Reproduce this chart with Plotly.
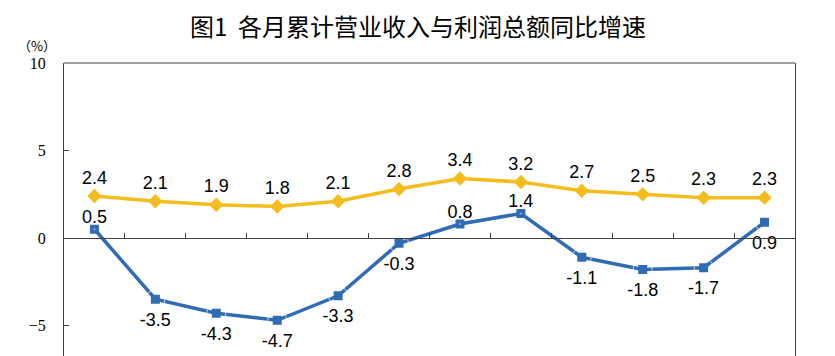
import plotly.graph_objects as go

months = ["2023年1-12月", "2024年1-2月", "1-3月", "1-4月", "1-5月", "1-6月",
          "1-7月", "1-8月", "1-9月", "1-10月", "1-11月", "1-12月"]
revenue = [2.4, 2.1, 1.9, 1.8, 2.1, 2.8, 3.4, 3.2, 2.7, 2.5, 2.3, 2.3]
profit = [0.5, -3.5, -4.3, -4.7, -3.3, -0.3, 0.8, 1.4, -1.1, -1.8, -1.7, 0.9]
profit_pos = ["top center", "bottom center", "bottom center", "bottom center",
              "bottom center", "bottom center", "top center", "top center",
              "bottom center", "bottom center", "bottom center", "bottom center"]
y_ticks = [-5, 0, 5, 10]

# page body has an 8px margin: target image coords are shifted by OFF
OFF = 8
W, H = 835, 356
L = 64 - OFF
R = W - (795 - OFF)
T = 63 - OFF
B = 0
y_top = 10
px_per_unit = 17.5
plot_h = H - T - B
plot_w = W - L - R
y_bot = y_top - plot_h / px_per_unit

YELLOW = "#F4BD1D"
BLUE = "#2F6CB3"
label_font = dict(family="Liberation Sans, Arial, sans-serif", size=18, color="black")
serif = "Liberation Serif, Times New Roman, DejaVu Serif, serif"

fig = go.Figure()
fig.add_trace(go.Scatter(
    x=months, y=revenue, mode="lines+markers+text",
    line=dict(color=YELLOW, width=3.5),
    marker=dict(symbol="diamond", size=11, color=YELLOW),
    text=[f"{v:.1f}" for v in revenue], textposition="top center",
    textfont=label_font, cliponaxis=False, showlegend=False, hoverinfo="skip"))
fig.add_trace(go.Scatter(
    x=months, y=profit, mode="lines+markers",
    line=dict(color=BLUE, width=3.5),
    marker=dict(symbol="square", size=9, color=BLUE),
    cliponaxis=False, showlegend=False))
# label-only trace for profit (transparent markers set the label offset)
label_sizes = [1 if p.startswith("top") else 19 for p in profit_pos]
fig.add_trace(go.Scatter(
    x=months, y=profit, mode="markers+text",
    marker=dict(size=label_sizes, color="rgba(0,0,0,0)"),
    text=[f"{v:.1f}" for v in profit], textposition=profit_pos,
    textfont=label_font, cliponaxis=False, showlegend=False, hoverinfo="skip"))

zero_pos = (0 - y_bot) / (y_top - y_bot)
fig.update_xaxes(
    type="category", range=[-0.5, len(months) - 0.5],
    anchor="free", position=zero_pos, automargin=False,
    showline=True, linecolor="#404040", linewidth=1.2,
    ticks="inside", tickson="boundaries", ticklen=5, tickcolor="#404040",
    showticklabels=False, showgrid=False, zeroline=False)
fig.update_yaxes(
    range=[y_bot, y_top], tickvals=y_ticks, automargin=False,
    showline=True, mirror=True, linecolor="#404040", linewidth=1.2,
    ticks="inside", ticklen=5, tickcolor="#404040",
    tickfont=dict(family=serif, size=16, color="black"),
    ticklabelstandoff=14,
    showgrid=False, zeroline=False)

fig.add_shape(type="line", xref="paper", yref="paper", x0=0, x1=1, y0=1, y1=1,
              line=dict(color="#404040", width=1.2))
fig.add_annotation(text="（%）", xref="paper", yref="paper",
                   x=(37 - 64) / plot_w, y=(H - (45 - OFF)) / plot_h,
                   showarrow=False, xanchor="center", yanchor="middle",
                   font=dict(family="Noto Sans CJK SC", size=13, color="black"))
fig.add_annotation(text="图1  各月累计营业收入与利润总额同比增速",
                   xref="paper", yref="paper",
                   x=(418 - 64) / plot_w, y=(H - (26 - OFF)) / plot_h,
                   showarrow=False, xanchor="center", yanchor="middle",
                   font=dict(family="Noto Sans CJK SC", size=24, color="black"))

fig.update_layout(
    width=W, height=H,
    margin=dict(l=L, r=R, t=T, b=B, autoexpand=False),
    paper_bgcolor="white", plot_bgcolor="white",
)
fig.write_html("out.html")
